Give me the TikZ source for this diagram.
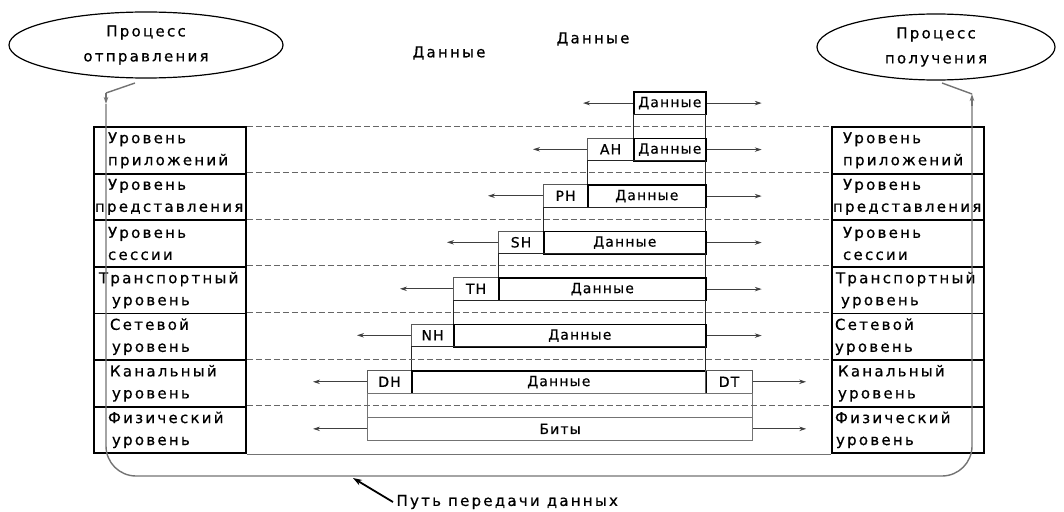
\documentclass[tikz,border=0pt]{standalone}
\usepackage{fontspec}
\usepackage{tikz}
\usetikzlibrary{shapes,arrows,arrows.meta,positioning,shapes.geometric}
\setmainfont{DejaVu Sans}
\newfontfamily\pixfont{DejaVu Sans}[LetterSpace=15, FakeBold=0.6]
\newfontfamily\boxpixfont{DejaVu Sans}[LetterSpace=8, FakeBold=0.6]
\newcommand{\lyrfont}{\pixfont\fontsize{15}{22}\selectfont}
\newcommand{\cellfont}{\boxpixfont\fontsize{14}{16}\selectfont}

\begin{document}
\begin{tikzpicture}[
    x=1pt, y=-1pt,
    node distance=0pt,
    lyr/.style={rectangle, draw=black, line width=1.8pt, minimum width=152pt,
                minimum height=46.6pt, text width=150pt, inner xsep=1pt,
                inner ysep=0pt, align=left, font=\lyrfont},
    proc/.style={ellipse, draw=black, line width=1.2pt, align=center,
                 font=\pixfont\fontsize{15}{25}\selectfont, inner sep=0pt},
    hdr/.style={rectangle, draw=black!65, line width=1.1pt, anchor=north west,
                minimum height=22.5pt, inner sep=0pt, font=\cellfont},
    dat/.style={rectangle, draw=black, line width=1.7pt, anchor=north west,
                minimum height=22.5pt, inner sep=0pt, font=\cellfont},
    gap/.style={rectangle, draw=black!85, line width=1.4pt, anchor=north west,
                minimum height=24pt, inner sep=0pt},
    phys/.style={rectangle, draw=black!55, line width=1.2pt, anchor=north west,
                 minimum width=385pt, inner sep=0pt, font=\cellfont},
    lvline/.style={draw=black!60, line width=1pt, dash pattern=on 6pt off 3pt},
    route/.style={draw=black!55, line width=1.4pt},
    arr/.style={-{Stealth[length=7pt,width=4.5pt]}, draw=black!75, line width=0.9pt},
]
\useasboundingbox (0,0) rectangle (1064,511);

% processes
\node[proc, minimum width=274pt, minimum height=66pt] (snd) at (146,45) {Процесс\\отправления};
\node[proc, minimum width=238pt, minimum height=66pt] (rcv) at (936,47) {Процесс\\получения};
\node[font=\lyrfont] (dtx1) at (449,53) {Данные};
\node[font=\lyrfont] (dtx2) at (593,39) {Данные};

% sending side
\node[lyr] (l1) at (170,150.3) {\hspace*{13pt}Уровень\\\hspace*{13pt}приложений};
\node[lyr] (l2) at (170,196.9) {\hspace*{13pt}Уровень\\представления};
\node[lyr] (l3) at (170,243.5) {\hspace*{13pt}Уровень\\\hspace*{13pt}сессии};
\node[lyr] (l4) at (170,290.1) {\hspace*{4pt}Транспортный\\\hspace*{17pt}уровень};
\node[lyr] (l5) at (170,336.7) {\hspace*{15pt}Сетевой\\\hspace*{17pt}уровень};
\node[lyr] (l6) at (170,383.3) {\hspace*{15pt}Канальный\\\hspace*{17pt}уровень};
\node[lyr] (l7) at (170,429.9) {\hspace*{13pt}Физический\\\hspace*{17pt}уровень};

% receiving side
\node[lyr] (r1) at (908,150.3) {\hspace*{10pt}Уровень\\\hspace*{10pt}приложений};
\node[lyr] (r2) at (908,196.9) {\hspace*{10pt}Уровень\\представления};
\node[lyr] (r3) at (908,243.5) {\hspace*{10pt}Уровень\\\hspace*{10pt}сессии};
\node[lyr] (r4) at (908,290.1) {\hspace*{3pt}Транспортный\\\hspace*{8pt}уровень};
\node[lyr] (r5) at (908,336.7) {\hspace*{2pt}Сетевой\\\hspace*{2pt}уровень};
\node[lyr] (r6) at (908,383.3) {\hspace*{5pt}Канальный\\\hspace*{5pt}уровень};
\node[lyr] (r7) at (908,429.9) {\hspace*{2pt}Физический\\\hspace*{3pt}уровень};

% encapsulation
\node[dat, minimum width=72pt]  (d0) at (633,91) {Данные};
\node[gap, minimum width=72pt]  (g0) at (633,113.5) {};
\node[hdr, minimum width=46pt]  (ah) at (587,137.5) {AH};
\node[dat, minimum width=72pt]  (d1) at (633,137.5) {Данные};
\node[gap, minimum width=118pt] (g1) at (587,160) {};
\node[hdr, minimum width=44pt]  (ph) at (543,184) {PH};
\node[dat, minimum width=118pt] (d2) at (587,184) {Данные};
\node[gap, minimum width=162pt] (g2) at (543,206.5) {};
\node[hdr, minimum width=45pt]  (sh) at (498,230.5) {SH};
\node[dat, minimum width=162pt] (d3) at (543,230.5) {Данные};
\node[gap, minimum width=207pt] (g3) at (498,253) {};
\node[hdr, minimum width=45pt]  (th) at (453,277) {TH};
\node[dat, minimum width=207pt] (d4) at (498,277) {Данные};
\node[gap, minimum width=252pt] (g4) at (453,299.5) {};
\node[hdr, minimum width=42pt]  (nh) at (411,323.5) {NH};
\node[dat, minimum width=252pt] (d5) at (453,323.5) {Данные};
\node[gap, minimum width=294pt] (g5) at (411,346) {};
\node[hdr, minimum width=44pt]  (dh) at (367,370) {DH};
\node[dat, minimum width=294pt] (d6) at (411,370) {Данные};
\node[hdr, minimum width=47pt]  (dt) at (705,370) {DT};
\node[phys, minimum height=24pt]   (bt0) at (367,392.5) {};
\node[phys, minimum height=23.5pt] (bt)  at (367,416.5) {Биты};

% level lines
\draw[lvline] (l1.north east) -- (r1.north west);
\draw[lvline] (l2.north east) -- (r2.north west);
\draw[lvline] (l3.north east) -- (r3.north west);
\draw[lvline] (l4.north east) -- (r4.north west);
\draw[lvline] (l5.north east) -- (r5.north west);
\draw[lvline] (l6.north east) -- (r6.north west);
\draw[lvline] (l7.north east) -- (r7.north west);
\draw[route, line width=1pt] (l7.south east) -- (r7.south west);

% peer arrows
\coordinate[left=50pt of d0] (d0l);   \coordinate[right=55pt of d0] (d0r);
\coordinate[left=54pt of ah] (ahl);   \coordinate[right=55pt of d1] (d1r);
\coordinate[left=55pt of ph] (phl);   \coordinate[right=55pt of d2] (d2r);
\coordinate[left=51pt of sh] (shl);   \coordinate[right=55pt of d3] (d3r);
\coordinate[left=53pt of th] (thl);   \coordinate[right=55pt of d4] (d4r);
\coordinate[left=54pt of nh] (nhl);   \coordinate[right=55pt of d5] (d5r);
\coordinate[left=54pt of dh] (dhl);   \coordinate[right=53pt of dt] (dtr);
\coordinate[left=54pt of bt] (btl);   \coordinate[right=53pt of bt] (btr);
\draw[arr] (d0) -- (d0l);  \draw[arr] (d0) -- (d0r);
\draw[arr] (ah) -- (ahl);  \draw[arr] (d1) -- (d1r);
\draw[arr] (ph) -- (phl);  \draw[arr] (d2) -- (d2r);
\draw[arr] (sh) -- (shl);  \draw[arr] (d3) -- (d3r);
\draw[arr] (th) -- (thl);  \draw[arr] (d4) -- (d4r);
\draw[arr] (nh) -- (nhl);  \draw[arr] (d5) -- (d5r);
\draw[arr] (dh) -- (dhl);  \draw[arr] (dt) -- (dtr);
\draw[arr] (bt) -- (btl);  \draw[arr] (bt) -- (btr);

% data path
\coordinate (sndo) at (135,83);
\coordinate (sndv) at (106,93);
\coordinate (lt)   at (106,104);
\coordinate (lb)   at (106,476);
\coordinate (rb)   at (972,476);
\coordinate (rt)   at (972,106);
\coordinate (rcvv) at (972,94);
\coordinate (rcvo) at (942,83);
\draw[route] (sndo) -- (sndv);
\draw[arr, route] (sndv) -- (lt);
\draw[route, rounded corners=30pt] (lt) -- (lb) -- (rb) -- (rt);
\draw[arr, route] (rt) -- (rcvv);
\draw[route] (rcvv) -- (rcvo);

\node[font=\lyrfont, anchor=west] (pathlbl) at (393,502) {Путь передачи данных};
\coordinate (pathtip) at (353,478);
\draw[-{Stealth[length=9pt,width=6pt]}, line width=1.8pt] (pathlbl.west) -- (pathtip);

\end{tikzpicture}
\end{document}
